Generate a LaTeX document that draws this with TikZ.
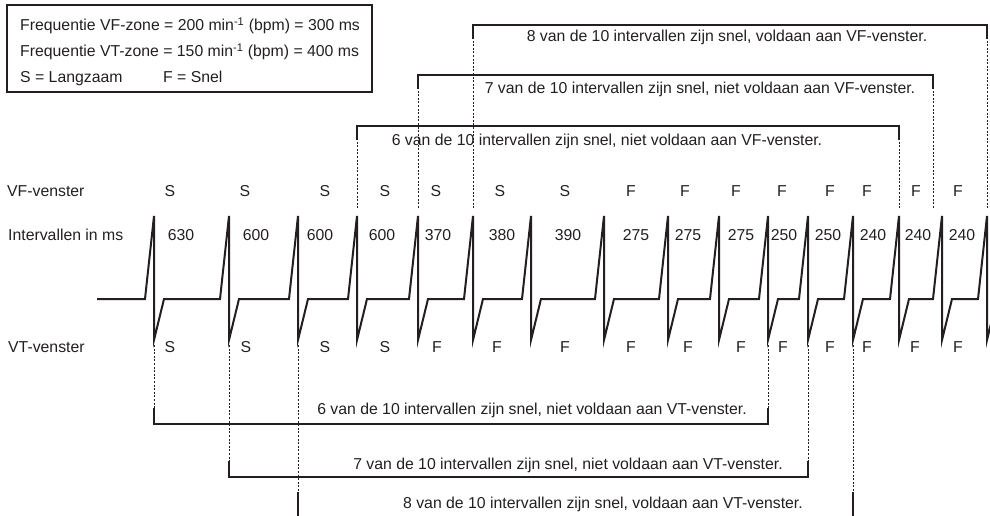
\documentclass[tikz,border=0pt]{standalone}
\usepackage{fontspec}
\setmainfont{Liberation Sans}
\usepackage{xcolor}
\usepackage{tikz}
\usetikzlibrary{calc}
\definecolor{linecolor}{HTML}{231F20}

\tikzset{
  lbl/.style={font=\fontsize{15.8}{19}\selectfont, inner sep=0pt, text height=11.3pt, text depth=0pt, text=linecolor},
  ecg/.style={line width=2pt, draw=linecolor},
  bracket/.style={line width=1.3pt, draw=linecolor},
  guide/.style={line width=0.9pt, draw=linecolor, dash pattern=on 2pt off 1.6pt},
}

\begin{document}
\begin{tikzpicture}[x=1pt,y=-1pt]
\useasboundingbox (0,0) rectangle (990,515);
%% legend
\draw[bracket] (7,5) rectangle (372,92);
\node[lbl,anchor=west] (fvf) at (20,25) {Frequentie VF-zone = 200 min\textsuperscript{-1} (bpm) = 300 ms};
\node[lbl,anchor=west] (fvt) at (20,51) {Frequentie VT-zone = 150 min\textsuperscript{-1} (bpm) = 400 ms};
\node[lbl,anchor=west] (slow) at (20,77) {S = Langzaam};
\node[lbl,anchor=west] (fast) at (163,77) {F = Snel};

%% row labels
\node[lbl,anchor=west] (vfrow) at (7,191) {VF-venster};
\node[lbl,anchor=west] (msrow) at (8,235) {Intervallen in ms};
\node[lbl,anchor=west] (vtrow) at (8,347) {VT-venster};

%% spikes
\foreach \x [count=\i] in {154,229,298,357,418,473,531,604,668,719,768,808,853,899,942,987}
    \coordinate (s\i) at (\x,0);
\coordinate (q15) at (933,0);
\draw[ecg] (97,299) \foreach \x in {154,229,298,357,418,473,531,604,668,719,768,808,853,899,942,987}
    { -- (\x-9,299) -- (\x,216) -- (\x,340) -- (\x+10,299) };

%% intervals
\foreach \x/\xtext [count=\i] in {181/630, 256/600, 320/600, 382/600, 438/370, 502/380, 568/390, 636/275, 688/275, 741/275, 784/250, 828/250, 873/240, 918/240, 962/240}
    \node[lbl] (ms\i) at (\x,235) {\xtext};
%% VF-venster
\foreach \x/\xtext [count=\i] in {170/S, 245/S, 325/S, 385/S, 436/S, 500/S, 565/S, 631/F, 685/F, 736/F, 782/F, 830/F, 867/F, 916/F, 958/F}
    \node[lbl] (vf\i) at (\x,191) {\xtext};
%% VT-venster
\foreach \x/\xtext [count=\i] in {170/S, 246/S, 325/S, 385/S, 437/F, 497/F, 565/F, 631/F, 688/F, 741/F, 783/F, 830/F, 867/F, 915/F, 958/F}
    \node[lbl] (vt\i) at (\x,347) {\xtext};

%% VF brackets
\foreach \a/\b/\y in {s4/s14/126, s5/q15/75, s6/s16/25} {
    \draw[guide] ($(\a)+(0,\y+12)$) -- ($(\a)+(0,208)$);
    \draw[guide] ($(\b)+(0,\y+12)$) -- ($(\b)+(0,208)$);
    \draw[bracket] ($(\a)+(0,\y+14)$) -- ($(\a)+(0,\y)$) -- ($(\b)+(0,\y)$) -- ($(\b)+(0,\y+14)$);
}
\node[lbl] (vfsix) at (607,140) {6 van de 10 intervallen zijn snel, niet voldaan aan VF-venster.};
\node[lbl] (vfseven) at (700,88) {7 van de 10 intervallen zijn snel, niet voldaan aan VF-venster.};
\node[lbl] (vfeight) at (727,36) {8 van de 10 intervallen zijn snel, voldaan aan VF-venster.};

%% VT brackets
\foreach \a/\b/\y/\z in {s1/s11/424/408, s2/s12/477/461, s3/s13/540/492} {
    \draw[guide] ($(\a)+(0,345)$) -- ($(\a)+(0,\z+2)$);
    \draw[guide] ($(\b)+(0,345)$) -- ($(\b)+(0,\z+2)$);
    \draw[bracket] ($(\a)+(0,\z)$) -- ($(\a)+(0,\y)$) -- ($(\b)+(0,\y)$) -- ($(\b)+(0,\z)$);
}
\node[lbl] (vtsix) at (532,409) {6 van de 10 intervallen zijn snel, niet voldaan aan VT-venster.};
\node[lbl] (vtseven) at (568,464) {7 van de 10 intervallen zijn snel, niet voldaan aan VT-venster.};
\node[lbl] (vteight) at (603,503) {8 van de 10 intervallen zijn snel, voldaan aan VT-venster.};
\end{tikzpicture}
\end{document}
